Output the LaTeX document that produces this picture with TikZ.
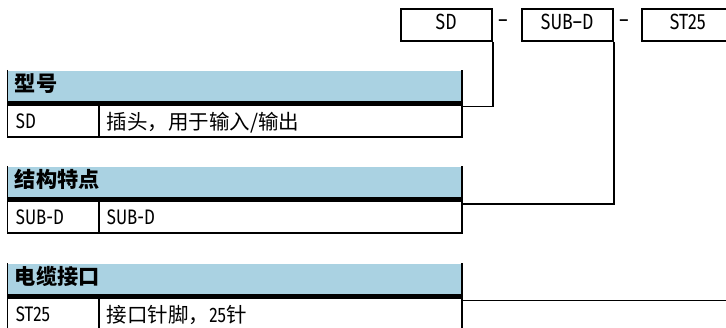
\documentclass[tikz,border=0pt]{standalone}
\usepackage{fontspec}
\setmainfont[FakeStretch=0.8]{Fira Sans}
\newfontfamily\cjk{Noto Sans CJK SC}
\definecolor{hdr}{RGB}{170,210,226}
\begin{document}
\begin{tikzpicture}[x=1pt,y=-1pt,line width=1.8pt,
  codebox/.style={draw,minimum width=91pt,minimum height=31.4pt,inner sep=0pt,
    text height=15.2pt,text depth=5.2pt,font=\fontsize{22}{26}\selectfont},
  sep/.style={inner sep=0pt,font=\fontsize{22}{26}\selectfont},
  hdrtext/.style={anchor=base west,inner sep=0pt,font=\cjk\bfseries\fontsize{21.2}{24}\selectfont},
  celltext/.style={anchor=base west,inner sep=0pt,font=\fontsize{21}{24}\selectfont},
  cjktext/.style={anchor=base west,inner sep=0pt,font=\cjk\fontsize{20.5}{24}\selectfont},
  hdrfill/.style={fill=hdr},
  band/.style={fill=black}]
\useasboundingbox (0,0) rectangle (726,328);
\clip (0,0) rectangle (726,328);

% code boxes
\node[codebox] (sd)   at (446.2,25) {SD};
\node[codebox] (subd) at (567.2,25) {SUB--D};
\node[codebox] (st)   at (687.8,25) {ST25};
\node[sep] (d1) at (503,23.5) {--};
\node[sep] (d2) at (624,23.5) {--};

% tables
\foreach \T in {71,167,264}{
  \fill[hdrfill] (7.5,\T) rectangle (461.7,\T+30);
  \fill[band] (7.5,\T+30) rectangle (461.7,\T+35.5);
  \draw (7.5,\T-1) -- (7.5,\T+66) -- (461.7,\T+66) -- (461.7,\T-1);
  \draw (99,\T+35) -- (99,\T+66);
}

% table texts
\node[hdrtext] (h1) at (14,92) {型号};
\node[celltext] (a1) at (15,129) {SD};
\node[cjktext] (b1) at (106,129.5) {插头，用于输入/输出};

\node[hdrtext] (h2) at (14,188) {结构特点};
\node[celltext] (a2) at (15,225) {SUB-D};
\node[celltext] (b2) at (106,225) {SUB-D};

\node[hdrtext] (h3) at (14,285) {电缆接口};
\node[celltext] (a3) at (15,322) {ST25};
\node[cjktext] (b3) at (106,322.5) {接口针脚，{\rmfamily\fontsize{21}{24}\selectfont 25}针};

% connectors
\coordinate (c1) at (461.7,106.5);
\coordinate (c2) at (461.7,203.8);
\coordinate (c3) at (461.7,300.5);
\draw (c1) -| (sd.south east);
\draw (c2) -| (subd.south east);
\draw (c3) -| (st.south east);
\end{tikzpicture}
\end{document}
